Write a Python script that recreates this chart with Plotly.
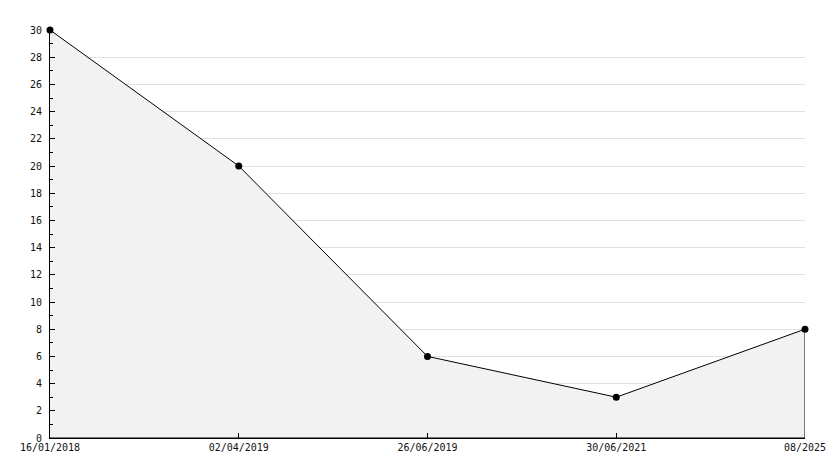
import plotly.graph_objects as go

dates = ["16/01/2018", "02/04/2019", "26/06/2019", "30/06/2021", "08/2025"]
values = [30, 20, 6, 3, 8]

xpos = list(range(len(dates)))

fig = go.Figure()
# shaded area with outline
fig.add_trace(go.Scatter(
    x=xpos + [xpos[-1], xpos[0]],
    y=values + [0, 0],
    mode="lines",
    fill="toself",
    fillcolor="#f2f2f2",
    line=dict(color="black", width=1),
    hoverinfo="skip",
    showlegend=False,
    cliponaxis=False,
))
fig.add_trace(go.Scatter(
    x=xpos, y=values,
    mode="markers",
    marker=dict(symbol="circle", size=7, color="black"),
    showlegend=False,
    cliponaxis=False,
))

font = dict(family="DejaVu Sans Mono", size=10, color="#111111")
fig.update_layout(
    width=826, height=460,
    margin=dict(l=42, r=29, t=22, b=30, autoexpand=False),
    paper_bgcolor="white", plot_bgcolor="white",
    font=font,
    xaxis=dict(
        range=[0, 4], tickvals=xpos, ticktext=dates,
        showgrid=False, zeroline=False, automargin=False,
        showline=True, linecolor="black", linewidth=1,
        ticks="inside", ticklen=5, tickcolor="black",
        tickfont=font,
    ),
    yaxis=dict(
        range=[0, 30], dtick=2, tick0=0, automargin=False,
        showgrid=True, gridcolor="#e0e0e0", gridwidth=1,
        zeroline=False,
        showline=True, linecolor="black", linewidth=1,
        ticks="inside", ticklen=5, tickcolor="black",
        ticklabelstandoff=5,
        minor=dict(dtick=1, ticks="inside", ticklen=3, tickcolor="black", showgrid=False),
        tickfont=font,
    ),
)
fig.write_html("out.html")
